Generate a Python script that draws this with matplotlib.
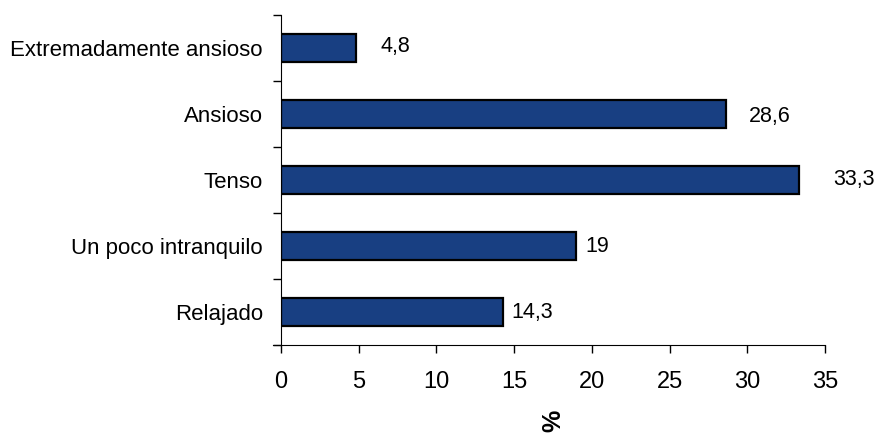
import matplotlib
matplotlib.use('Agg')
import matplotlib.pyplot as plt
import numpy as np

plt.rcParams['font.family'] = ['Liberation Sans', 'DejaVu Sans']

categories = ['Extremadamente ansioso', 'Ansioso', 'Tenso', 'Un poco intranquilo', 'Relajado']
values = [4.8, 28.6, 33.3, 19, 14.3]
value_text = ['4,8', '28,6', '33,3', '19', '14,3']
xticks = [0, 5, 10, 15, 20, 25, 30, 35]

# label offsets in points (dx, dy)
label_offsets = [(18, 1), (16.5, -1.5), (25, 0), (6.5, 0), (6, -0.5)]

fig = plt.figure(figsize=(8.81, 4.33), dpi=100)
ax = fig.add_axes([0.319, 0.2032, 0.6174, 0.7622])

pos = np.arange(len(categories))
ax.barh(pos, values, height=0.43, color='#183f82', edgecolor='black', linewidth=1.6)

for p, v, t, off in zip(pos, values, value_text, label_offsets):
    ax.annotate(t, (v, p), xytext=off, textcoords='offset points',
                ha='left', va='center', fontsize=15.5)

ax.set_ylim(len(categories) - 0.5, -0.5)
ax.set_xlim(0, 35)
ax.set_xticks(xticks)
ax.set_xticklabels([str(x) for x in xticks], fontsize=17)
ax.set_yticks(pos)
ax.set_yticklabels(categories, fontsize=16)
ax.set_yticks(np.arange(-0.5, len(categories)), minor=True)
ax.tick_params(axis='y', which='major', length=0, pad=13)
ax.tick_params(axis='y', which='minor', length=6, direction='out', width=1)
ax.tick_params(axis='x', length=6, direction='out', width=1, pad=13)

for s in ['top', 'right']:
    ax.spines[s].set_visible(False)
ax.spines['bottom'].set_bounds(-0.5, 35)

ax.set_xlabel('%', fontsize=18, fontweight='bold', rotation=90, labelpad=12)

fig.savefig('out.png', dpi=100)
